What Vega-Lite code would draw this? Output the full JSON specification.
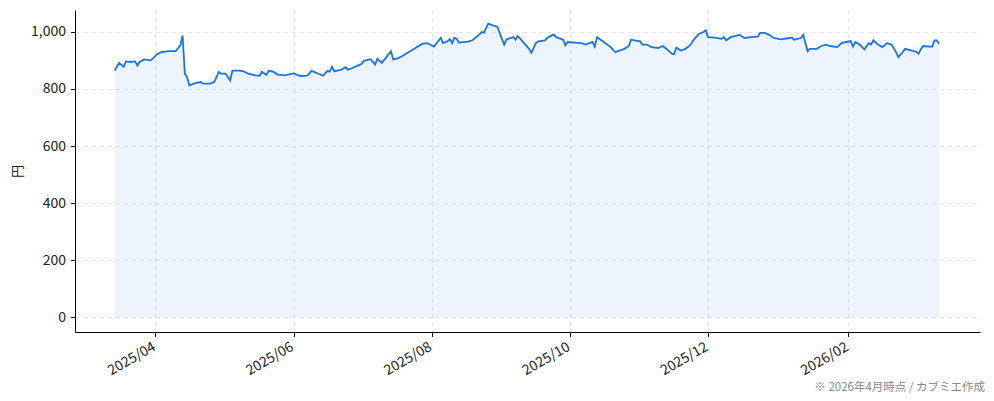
{
  "$schema": "https://vega.github.io/schema/vega-lite/v6.json",
  "width": 905,
  "height": 322,
  "autosize": {"type": "none"},
  "padding": {"left": 75, "top": 10, "right": 14, "bottom": 69},
  "background": "white",
  "config": {
    "font": "Noto Sans CJK JP",
    "view": {"stroke": null}
  },
  "title": {
    "text": "※ 2026年4月時点 / カブミエ作成",
    "orient": "bottom",
    "anchor": "end",
    "fontSize": 11.5,
    "fontWeight": "normal",
    "color": "#888888",
    "offset": 4,
    "dx": 5
  },
  "data": {
    "values": [
      {"date": "2025-03-14", "price": 864},
      {"date": "2025-03-16", "price": 891},
      {"date": "2025-03-18", "price": 877},
      {"date": "2025-03-19", "price": 896},
      {"date": "2025-03-21", "price": 894},
      {"date": "2025-03-23", "price": 896},
      {"date": "2025-03-24", "price": 882},
      {"date": "2025-03-25", "price": 894},
      {"date": "2025-03-27", "price": 903},
      {"date": "2025-03-30", "price": 900},
      {"date": "2025-04-02", "price": 923},
      {"date": "2025-04-04", "price": 929},
      {"date": "2025-04-07", "price": 932},
      {"date": "2025-04-10", "price": 932},
      {"date": "2025-04-12", "price": 952},
      {"date": "2025-04-13", "price": 987},
      {"date": "2025-04-14", "price": 853},
      {"date": "2025-04-15", "price": 841},
      {"date": "2025-04-16", "price": 812},
      {"date": "2025-04-18", "price": 818},
      {"date": "2025-04-19", "price": 821},
      {"date": "2025-04-21", "price": 824},
      {"date": "2025-04-22", "price": 818},
      {"date": "2025-04-25", "price": 818},
      {"date": "2025-04-27", "price": 824},
      {"date": "2025-04-29", "price": 859},
      {"date": "2025-04-30", "price": 853},
      {"date": "2025-05-02", "price": 853},
      {"date": "2025-05-04", "price": 829},
      {"date": "2025-05-05", "price": 864},
      {"date": "2025-05-08", "price": 864},
      {"date": "2025-05-10", "price": 861},
      {"date": "2025-05-12", "price": 853},
      {"date": "2025-05-15", "price": 847},
      {"date": "2025-05-17", "price": 846},
      {"date": "2025-05-18", "price": 860},
      {"date": "2025-05-20", "price": 849},
      {"date": "2025-05-21", "price": 863},
      {"date": "2025-05-23", "price": 860},
      {"date": "2025-05-25", "price": 850},
      {"date": "2025-05-28", "price": 847},
      {"date": "2025-06-01", "price": 854},
      {"date": "2025-06-04", "price": 845},
      {"date": "2025-06-07", "price": 846},
      {"date": "2025-06-09", "price": 863},
      {"date": "2025-06-12", "price": 853},
      {"date": "2025-06-14", "price": 846},
      {"date": "2025-06-16", "price": 863},
      {"date": "2025-06-17", "price": 860},
      {"date": "2025-06-18", "price": 877},
      {"date": "2025-06-19", "price": 861},
      {"date": "2025-06-22", "price": 867},
      {"date": "2025-06-24", "price": 876},
      {"date": "2025-06-25", "price": 867},
      {"date": "2025-06-27", "price": 873},
      {"date": "2025-06-30", "price": 884},
      {"date": "2025-07-01", "price": 887},
      {"date": "2025-07-02", "price": 898},
      {"date": "2025-07-05", "price": 904},
      {"date": "2025-07-07", "price": 885},
      {"date": "2025-07-08", "price": 905},
      {"date": "2025-07-10", "price": 891},
      {"date": "2025-07-14", "price": 932},
      {"date": "2025-07-15", "price": 903},
      {"date": "2025-07-17", "price": 907},
      {"date": "2025-07-19", "price": 915},
      {"date": "2025-07-23", "price": 934},
      {"date": "2025-07-28", "price": 958},
      {"date": "2025-07-30", "price": 960},
      {"date": "2025-08-01", "price": 952},
      {"date": "2025-08-02", "price": 948},
      {"date": "2025-08-03", "price": 958},
      {"date": "2025-08-05", "price": 979},
      {"date": "2025-08-06", "price": 960},
      {"date": "2025-08-08", "price": 967},
      {"date": "2025-08-09", "price": 974},
      {"date": "2025-08-10", "price": 960},
      {"date": "2025-08-11", "price": 979},
      {"date": "2025-08-12", "price": 975},
      {"date": "2025-08-13", "price": 962},
      {"date": "2025-08-17", "price": 965},
      {"date": "2025-08-19", "price": 970},
      {"date": "2025-08-22", "price": 990},
      {"date": "2025-08-23", "price": 999},
      {"date": "2025-08-24", "price": 996},
      {"date": "2025-08-26", "price": 1028},
      {"date": "2025-08-28", "price": 1022},
      {"date": "2025-08-30", "price": 1017},
      {"date": "2025-09-01", "price": 975},
      {"date": "2025-09-02", "price": 955},
      {"date": "2025-09-03", "price": 973},
      {"date": "2025-09-06", "price": 981},
      {"date": "2025-09-07", "price": 972},
      {"date": "2025-09-08", "price": 985},
      {"date": "2025-09-10", "price": 967},
      {"date": "2025-09-13", "price": 940},
      {"date": "2025-09-14", "price": 926},
      {"date": "2025-09-16", "price": 960},
      {"date": "2025-09-17", "price": 966},
      {"date": "2025-09-20", "price": 970},
      {"date": "2025-09-21", "price": 978},
      {"date": "2025-09-23", "price": 987},
      {"date": "2025-09-24", "price": 990},
      {"date": "2025-09-25", "price": 981},
      {"date": "2025-09-28", "price": 972},
      {"date": "2025-09-29", "price": 952},
      {"date": "2025-09-30", "price": 964},
      {"date": "2025-10-03", "price": 962},
      {"date": "2025-10-06", "price": 960},
      {"date": "2025-10-08", "price": 955},
      {"date": "2025-10-11", "price": 964},
      {"date": "2025-10-12", "price": 948},
      {"date": "2025-10-13", "price": 981},
      {"date": "2025-10-16", "price": 964},
      {"date": "2025-10-19", "price": 946},
      {"date": "2025-10-21", "price": 929},
      {"date": "2025-10-22", "price": 931},
      {"date": "2025-10-25", "price": 940},
      {"date": "2025-10-27", "price": 950},
      {"date": "2025-10-28", "price": 972},
      {"date": "2025-11-01", "price": 966},
      {"date": "2025-11-02", "price": 955},
      {"date": "2025-11-04", "price": 955},
      {"date": "2025-11-06", "price": 946},
      {"date": "2025-11-09", "price": 943},
      {"date": "2025-11-11", "price": 950},
      {"date": "2025-11-13", "price": 938},
      {"date": "2025-11-15", "price": 923},
      {"date": "2025-11-16", "price": 921},
      {"date": "2025-11-17", "price": 944},
      {"date": "2025-11-19", "price": 934},
      {"date": "2025-11-21", "price": 940},
      {"date": "2025-11-23", "price": 952},
      {"date": "2025-11-25", "price": 975},
      {"date": "2025-11-27", "price": 993},
      {"date": "2025-11-29", "price": 999},
      {"date": "2025-11-30", "price": 1005},
      {"date": "2025-12-01", "price": 981},
      {"date": "2025-12-04", "price": 979},
      {"date": "2025-12-07", "price": 975},
      {"date": "2025-12-08", "price": 981},
      {"date": "2025-12-09", "price": 970},
      {"date": "2025-12-11", "price": 981},
      {"date": "2025-12-14", "price": 987},
      {"date": "2025-12-15", "price": 989},
      {"date": "2025-12-17", "price": 978},
      {"date": "2025-12-20", "price": 981},
      {"date": "2025-12-23", "price": 983},
      {"date": "2025-12-24", "price": 996},
      {"date": "2025-12-26", "price": 996},
      {"date": "2025-12-28", "price": 989},
      {"date": "2025-12-30", "price": 978},
      {"date": "2026-01-02", "price": 973},
      {"date": "2026-01-06", "price": 978},
      {"date": "2026-01-07", "price": 979},
      {"date": "2026-01-08", "price": 972},
      {"date": "2026-01-11", "price": 978},
      {"date": "2026-01-12", "price": 989},
      {"date": "2026-01-14", "price": 932},
      {"date": "2026-01-15", "price": 940},
      {"date": "2026-01-18", "price": 940},
      {"date": "2026-01-20", "price": 950},
      {"date": "2026-01-22", "price": 955},
      {"date": "2026-01-24", "price": 950},
      {"date": "2026-01-27", "price": 946},
      {"date": "2026-01-29", "price": 960},
      {"date": "2026-01-31", "price": 964},
      {"date": "2026-02-02", "price": 967},
      {"date": "2026-02-03", "price": 948},
      {"date": "2026-02-04", "price": 964},
      {"date": "2026-02-06", "price": 955},
      {"date": "2026-02-08", "price": 938},
      {"date": "2026-02-10", "price": 960},
      {"date": "2026-02-11", "price": 955},
      {"date": "2026-02-12", "price": 970},
      {"date": "2026-02-14", "price": 955},
      {"date": "2026-02-16", "price": 946},
      {"date": "2026-02-18", "price": 960},
      {"date": "2026-02-20", "price": 955},
      {"date": "2026-02-22", "price": 929},
      {"date": "2026-02-23", "price": 911},
      {"date": "2026-02-25", "price": 929},
      {"date": "2026-02-26", "price": 940},
      {"date": "2026-03-01", "price": 934},
      {"date": "2026-03-03", "price": 929},
      {"date": "2026-03-04", "price": 923},
      {"date": "2026-03-05", "price": 940},
      {"date": "2026-03-06", "price": 950},
      {"date": "2026-03-09", "price": 948},
      {"date": "2026-03-10", "price": 948},
      {"date": "2026-03-11", "price": 970},
      {"date": "2026-03-12", "price": 970},
      {"date": "2026-03-13", "price": 958}
    ]
  },
  "encoding": {
    "x": {
      "field": "date",
      "type": "temporal",
      "title": null,
      "scale": {
        "type": "utc",
        "domain": [
          {"year": 2025, "month": 2, "date": 24, "hours": 12, "utc": true},
          {"year": 2026, "month": 3, "date": 31, "hours": 2, "utc": true}
        ]
      },
      "axis": {
        "values": [
          {"year": 2025, "month": 4, "date": 1, "utc": true},
          {"year": 2025, "month": 6, "date": 1, "utc": true},
          {"year": 2025, "month": 8, "date": 1, "utc": true},
          {"year": 2025, "month": 10, "date": 1, "utc": true},
          {"year": 2025, "month": 12, "date": 1, "utc": true},
          {"year": 2026, "month": 2, "date": 1, "utc": true}
        ],
        "labelExpr": "utcFormat(datum.value, '%Y/%m')",
        "labelAngle": -30,
        "labelAlign": "right",
        "labelBaseline": "top",
        "labelFontSize": 14,
        "labelColor": "#222222",
        "labelPadding": 3,
        "labelOffset": -5,
        "labelFlush": false,
        "labelOverlap": false,
        "tickSize": 4.5,
        "tickColor": "#000000",
        "domainColor": "#000000",
        "domainWidth": 1,
        "grid": true,
        "gridColor": "#dddddd",
        "gridDash": [4, 4],
        "gridWidth": 0.8
      }
    },
    "y": {
      "field": "price",
      "type": "quantitative",
      "title": "円",
      "scale": {"domain": [-51, 1076], "nice": false, "zero": false},
      "axis": {
        "values": [0, 200, 400, 600, 800, 1000],
        "labelExpr": "format(datum.value, ',.0f')",
        "labelFontSize": 14,
        "labelColor": "#222222",
        "labelPadding": 5,
        "tickSize": 4.5,
        "tickColor": "#000000",
        "domainColor": "#000000",
        "domainWidth": 1,
        "grid": true,
        "gridColor": "#dddddd",
        "gridDash": [4, 4],
        "gridWidth": 0.8,
        "titleFontSize": 13,
        "titleFontWeight": "normal",
        "titleColor": "#222222",
        "titlePadding": 6
      }
    }
  },
  "layer": [
    {
      "mark": {"type": "area", "color": "#1a73e8", "opacity": 0.08, "clip": true}
    },
    {
      "mark": {"type": "line", "color": "#1a73e8", "strokeWidth": 1.8, "clip": true}
    }
  ]
}
